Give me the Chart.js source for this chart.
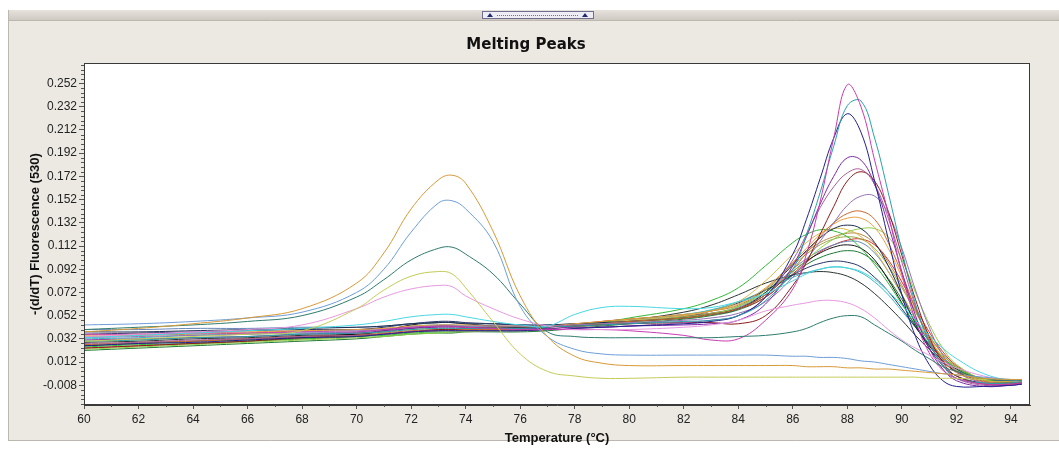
<!DOCTYPE html>
<html lang="en">
<head>
<meta charset="UTF-8">
<title>Melting Peaks</title>
<script src="https://cdn.jsdelivr.net/npm/chart.js"></script>
<style>
  html, body { margin: 0; padding: 0; background: #fff; }
  #wrap { width: 1059px; height: 449px; }
</style>
</head>
<body>
<div id="wrap"><canvas id="peaks" width="1059" height="449"></canvas></div>
<script>
// temperature grid (°C) shared by every curve
const temps = [60, 62, 64, 66, 68, 70, 71, 72, 73, 73.5, 74, 75, 76, 77, 78, 79, 80, 82, 83, 84, 85, 86,
  86.5, 87, 87.5, 88, 88.5, 89, 89.5, 90, 90.5, 91, 91.5, 92, 93, 94, 94.4];

const xTicks = [60, 62, 64, 66, 68, 70, 72, 74, 76, 78, 80, 82, 84, 86, 88, 90, 92, 94];
const yTicks = [-0.008, 0.012, 0.032, 0.052, 0.072, 0.092, 0.112, 0.132, 0.152, 0.172, 0.192, 0.212, 0.232, 0.252];

// samples with the low temperature peak (~73 °C)
const lowOrange = [0.038, 0.041, 0.045, 0.050, 0.058, 0.080, 0.106, 0.144, 0.169, 0.173, 0.166, 0.125, 0.069, 0.034,
  0.017, 0.011, 0.009, 0.009, 0.009, 0.009, 0.009, 0.009,
  0.008, 0.008, 0.008, 0.007, 0.007, 0.006, 0.006, 0.005, 0.004, 0.003, 0.002, 0.001,
  -0.002, -0.003, -0.003];
const lowBlue = [0.044, 0.045, 0.047, 0.050, 0.055, 0.072, 0.092, 0.124, 0.149, 0.151, 0.144, 0.116, 0.060, 0.034,
  0.023, 0.019, 0.018, 0.018, 0.018, 0.018, 0.018, 0.017,
  0.017, 0.016, 0.016, 0.015, 0.013, 0.012, 0.010, 0.008, 0.006, 0.004, 0.002, 0.001,
  -0.001, -0.003, -0.003];
const lowTeal = [0.040, 0.042, 0.044, 0.047, 0.052, 0.068, 0.083, 0.100, 0.110, 0.111, 0.105, 0.088, 0.062, 0.038,
  0.034, 0.033, 0.033, 0.033, 0.033, 0.034, 0.035, 0.038,
  0.041, 0.046, 0.050, 0.052, 0.051, 0.044, 0.037, 0.030, 0.022, 0.015, 0.008, 0.004,
  -0.002, -0.004, -0.004];
const lowYellow = [0.030, 0.032, 0.034, 0.036, 0.039, 0.058, 0.074, 0.086, 0.090, 0.088, 0.076, 0.047, 0.019, 0.004,
  0.000, -0.002, -0.002, -0.001, -0.001, -0.001, -0.001, -0.001,
  -0.001, -0.001, -0.001, -0.001, -0.001, -0.001, -0.001, -0.001, -0.001, -0.002, -0.002, -0.002,
  -0.003, -0.003, -0.003];
const lowPink = [0.034, 0.036, 0.038, 0.040, 0.044, 0.058, 0.068, 0.075, 0.078, 0.077, 0.069, 0.058, 0.049, 0.043,
  0.040, 0.040, 0.040, 0.042, 0.044, 0.048, 0.056, 0.061,
  0.063, 0.065, 0.065, 0.063, 0.058, 0.050, 0.040, 0.031, 0.024, 0.018, 0.012, 0.007,
  0.000, -0.004, -0.004];
const lowCyan = [0.033, 0.035, 0.037, 0.039, 0.041, 0.044, 0.047, 0.051, 0.053, 0.053, 0.051, 0.047, 0.044, 0.043,
  0.053, 0.059, 0.060, 0.058, 0.059, 0.064, 0.071, 0.082,
  0.088, 0.092, 0.094, 0.093, 0.090, 0.083, 0.073, 0.061, 0.048, 0.035, 0.024, 0.015,
  0.002, -0.004, -0.004];

// samples with the high temperature peak (~88 °C)
const peakMagenta = [0.036, 0.036, 0.037, 0.037, 0.038, 0.038, 0.040, 0.042, 0.043, 0.043, 0.042, 0.041, 0.040, 0.040,
  0.040, 0.040, 0.039, 0.035, 0.031, 0.032, 0.048, 0.075,
  0.105, 0.150, 0.205, 0.251, 0.232, 0.186, 0.140, 0.088, 0.048, 0.020, 0.005, -0.002,
  -0.007, -0.007, -0.006];
const peakTeal = [0.030, 0.031, 0.033, 0.034, 0.036, 0.037, 0.038, 0.040, 0.041, 0.041, 0.041, 0.041, 0.041, 0.042,
  0.043, 0.044, 0.045, 0.047, 0.048, 0.052, 0.065, 0.092,
  0.122, 0.158, 0.198, 0.233, 0.237, 0.205, 0.158, 0.108, 0.062, 0.029, 0.009, -0.002,
  -0.006, -0.006, -0.005];
const peakNavy = [0.026, 0.028, 0.029, 0.031, 0.033, 0.034, 0.036, 0.038, 0.039, 0.039, 0.039, 0.039, 0.039, 0.040,
  0.041, 0.042, 0.043, 0.045, 0.047, 0.052, 0.068, 0.105,
  0.135, 0.170, 0.205, 0.226, 0.210, 0.168, 0.118, 0.070, 0.034, 0.010, -0.004, -0.009,
  -0.009, -0.008, -0.007];
const peakPurple = [0.031, 0.032, 0.033, 0.034, 0.036, 0.037, 0.039, 0.041, 0.042, 0.042, 0.042, 0.041, 0.041, 0.041,
  0.042, 0.042, 0.043, 0.044, 0.045, 0.048, 0.062, 0.095,
  0.120, 0.148, 0.172, 0.188, 0.186, 0.165, 0.130, 0.090, 0.052, 0.024, 0.006, -0.004,
  -0.009, -0.008, -0.007];
const peakMauve = [0.028, 0.029, 0.031, 0.032, 0.034, 0.035, 0.036, 0.038, 0.039, 0.039, 0.039, 0.039, 0.039, 0.040,
  0.041, 0.042, 0.043, 0.046, 0.048, 0.052, 0.068, 0.100,
  0.122, 0.145, 0.163, 0.175, 0.178, 0.165, 0.136, 0.098, 0.060, 0.030, 0.010, -0.002,
  -0.008, -0.008, -0.007];
const peakDarkRed = [0.024, 0.026, 0.028, 0.030, 0.033, 0.035, 0.036, 0.038, 0.040, 0.040, 0.041, 0.041, 0.041, 0.042,
  0.043, 0.044, 0.045, 0.046, 0.046, 0.045, 0.052, 0.078,
  0.098, 0.122, 0.146, 0.168, 0.176, 0.168, 0.142, 0.104, 0.066, 0.034, 0.012, 0.000,
  -0.007, -0.007, -0.006];
const peakViolet = [0.033, 0.034, 0.035, 0.036, 0.038, 0.039, 0.040, 0.042, 0.043, 0.043, 0.043, 0.043, 0.043, 0.043,
  0.044, 0.045, 0.046, 0.048, 0.050, 0.054, 0.064, 0.085,
  0.100, 0.116, 0.132, 0.147, 0.155, 0.155, 0.140, 0.110, 0.074, 0.042, 0.018, 0.004,
  -0.006, -0.007, -0.006];
const peakRust = [0.027, 0.029, 0.030, 0.032, 0.034, 0.035, 0.037, 0.039, 0.040, 0.040, 0.040, 0.040, 0.040, 0.041,
  0.043, 0.045, 0.047, 0.050, 0.053, 0.058, 0.070, 0.092,
  0.106, 0.120, 0.132, 0.140, 0.142, 0.135, 0.115, 0.088, 0.058, 0.032, 0.014, 0.003,
  -0.005, -0.006, -0.005];
const peakOrange = [0.035, 0.036, 0.037, 0.038, 0.039, 0.040, 0.041, 0.043, 0.044, 0.044, 0.044, 0.043, 0.043, 0.043,
  0.045, 0.047, 0.049, 0.053, 0.056, 0.062, 0.076, 0.098,
  0.110, 0.122, 0.131, 0.136, 0.136, 0.128, 0.110, 0.085, 0.058, 0.034, 0.016, 0.005,
  -0.004, -0.005, -0.005];
const peakInk = [0.038, 0.038, 0.039, 0.040, 0.041, 0.042, 0.043, 0.045, 0.046, 0.046, 0.045, 0.045, 0.044, 0.044,
  0.045, 0.046, 0.047, 0.050, 0.053, 0.058, 0.072, 0.096,
  0.108, 0.119, 0.127, 0.130, 0.127, 0.115, 0.095, 0.070, 0.045, 0.024, 0.009, 0.000,
  -0.006, -0.006, -0.005];
const peakLime = [0.023, 0.025, 0.027, 0.029, 0.031, 0.033, 0.034, 0.036, 0.037, 0.038, 0.038, 0.039, 0.039, 0.040,
  0.042, 0.044, 0.046, 0.050, 0.053, 0.060, 0.072, 0.090,
  0.100, 0.110, 0.118, 0.124, 0.127, 0.127, 0.120, 0.100, 0.072, 0.045, 0.024, 0.010,
  -0.003, -0.005, -0.004];
const peakGreen = [0.025, 0.027, 0.028, 0.030, 0.032, 0.034, 0.035, 0.037, 0.038, 0.038, 0.039, 0.039, 0.039, 0.040,
  0.043, 0.046, 0.050, 0.058, 0.065, 0.076, 0.095, 0.115,
  0.122, 0.126, 0.125, 0.120, 0.110, 0.096, 0.080, 0.062, 0.044, 0.028, 0.016, 0.007,
  -0.003, -0.005, -0.004];
const peakGold = [0.030, 0.031, 0.033, 0.034, 0.036, 0.037, 0.038, 0.040, 0.041, 0.041, 0.041, 0.041, 0.041, 0.042,
  0.044, 0.046, 0.048, 0.052, 0.056, 0.064, 0.082, 0.105,
  0.115, 0.123, 0.127, 0.126, 0.120, 0.108, 0.090, 0.070, 0.050, 0.031, 0.017, 0.007,
  -0.003, -0.005, -0.004];
const peakOlive = [0.027, 0.028, 0.030, 0.031, 0.033, 0.035, 0.036, 0.038, 0.039, 0.039, 0.039, 0.040, 0.040, 0.041,
  0.043, 0.045, 0.047, 0.051, 0.054, 0.060, 0.074, 0.095,
  0.105, 0.113, 0.118, 0.120, 0.118, 0.110, 0.095, 0.076, 0.055, 0.035, 0.019, 0.008,
  -0.003, -0.005, -0.004];
const peakSteel = [0.040, 0.040, 0.041, 0.041, 0.042, 0.042, 0.043, 0.045, 0.046, 0.046, 0.045, 0.045, 0.044, 0.044,
  0.045, 0.046, 0.048, 0.051, 0.054, 0.059, 0.072, 0.092,
  0.101, 0.108, 0.113, 0.116, 0.115, 0.106, 0.090, 0.070, 0.049, 0.030, 0.015, 0.005,
  -0.004, -0.005, -0.004];
const peakBlack = [0.026, 0.028, 0.030, 0.032, 0.034, 0.036, 0.039, 0.044, 0.046, 0.046, 0.045, 0.043, 0.042, 0.042,
  0.043, 0.045, 0.047, 0.050, 0.053, 0.058, 0.070, 0.090,
  0.099, 0.106, 0.111, 0.113, 0.110, 0.100, 0.083, 0.063, 0.043, 0.026, 0.013, 0.004,
  -0.004, -0.005, -0.004];
const peakNight = [0.036, 0.037, 0.038, 0.039, 0.040, 0.040, 0.042, 0.045, 0.047, 0.047, 0.046, 0.045, 0.044, 0.043,
  0.044, 0.045, 0.047, 0.051, 0.056, 0.063, 0.074, 0.087,
  0.093, 0.097, 0.099, 0.098, 0.094, 0.085, 0.073, 0.058, 0.042, 0.027, 0.015, 0.006,
  -0.003, -0.004, -0.004];
const peakAqua = [0.032, 0.033, 0.035, 0.036, 0.037, 0.038, 0.040, 0.043, 0.044, 0.044, 0.043, 0.043, 0.042, 0.042,
  0.044, 0.046, 0.048, 0.053, 0.057, 0.064, 0.074, 0.085,
  0.089, 0.092, 0.094, 0.093, 0.089, 0.081, 0.070, 0.056, 0.042, 0.028, 0.016, 0.007,
  -0.003, -0.005, -0.004];
const peakSlate = [0.029, 0.030, 0.032, 0.033, 0.035, 0.036, 0.038, 0.041, 0.043, 0.043, 0.042, 0.042, 0.042, 0.042,
  0.044, 0.046, 0.048, 0.055, 0.061, 0.070, 0.080, 0.087,
  0.089, 0.090, 0.089, 0.086, 0.080, 0.071, 0.060, 0.048, 0.035, 0.023, 0.012, 0.004,
  -0.004, -0.005, -0.004];
const peakRed = [0.024, 0.026, 0.028, 0.030, 0.032, 0.034, 0.036, 0.038, 0.039, 0.040, 0.040, 0.040, 0.040, 0.041,
  0.044, 0.047, 0.049, 0.052, 0.054, 0.058, 0.068, 0.088,
  0.098, 0.107, 0.113, 0.117, 0.118, 0.113, 0.100, 0.081, 0.059, 0.038, 0.021, 0.009,
  -0.003, -0.005, -0.004];
const peakTan = [0.034, 0.035, 0.036, 0.037, 0.039, 0.040, 0.041, 0.042, 0.043, 0.043, 0.043, 0.043, 0.043, 0.043,
  0.045, 0.047, 0.049, 0.053, 0.056, 0.061, 0.075, 0.097,
  0.107, 0.115, 0.120, 0.123, 0.122, 0.114, 0.098, 0.078, 0.056, 0.035, 0.019, 0.008,
  -0.003, -0.005, -0.004];
const peakForest = [0.022, 0.024, 0.026, 0.028, 0.030, 0.032, 0.034, 0.036, 0.037, 0.037, 0.038, 0.038, 0.038, 0.039,
  0.041, 0.043, 0.045, 0.049, 0.052, 0.057, 0.068, 0.087,
  0.096, 0.102, 0.106, 0.108, 0.106, 0.098, 0.084, 0.066, 0.047, 0.030, 0.016, 0.006,
  -0.003, -0.005, -0.004];

const curves = [lowOrange, lowBlue, lowTeal, lowYellow, lowPink, lowCyan,
  peakMagenta, peakTeal, peakNavy, peakPurple, peakMauve, peakDarkRed, peakViolet, peakRust,
  peakOrange, peakInk, peakLime, peakGreen, peakGold, peakOlive, peakSteel, peakBlack,
  peakNight, peakAqua, peakSlate, peakRed, peakTan, peakForest];

const lineColors = ['#D89A38', '#6E9ED8', '#2E7C6E', '#C4CC58', '#E898E0', '#48D8E4',
  '#C83CB0', '#2AA0AC', '#202090', '#8028A8', '#A86098', '#8C1C1C', '#9870B8', '#C86A30',
  '#E8A040', '#1C2C50', '#90D048', '#30B838', '#D8B848', '#98A840', '#6488B8', '#141414',
  '#243468', '#38B8C0', '#2C3434', '#D83030', '#B88848', '#1E7A34'];

const datasets = curves.map((vals, i) => ({
  label: 'Sample ' + (i + 1),
  data: vals.map((v, j) => ({ x: temps[j], y: v })),
  borderColor: lineColors[i],
  borderWidth: 1,
  pointRadius: 0,
  fill: false,
  tension: 0.4
}));

// window frame, header strip and white plot area
const framePlugin = {
  id: 'frame',
  beforeDraw(chart) {
    const { ctx, chartArea: a, width, height } = chart;
    ctx.save();
    ctx.fillStyle = '#ffffff';
    ctx.fillRect(0, 0, width, height);
    ctx.fillStyle = '#ECE9E3';
    ctx.fillRect(8, 10, width - 8, 431);
    const g = ctx.createLinearGradient(0, 10, 0, 20);
    g.addColorStop(0, '#E6E3DC');
    g.addColorStop(1, '#CECAC2');
    ctx.fillStyle = g;
    ctx.fillRect(8, 10, width - 8, 10);
    ctx.strokeStyle = '#BCB8B0';
    ctx.beginPath();
    ctx.moveTo(8, 20.5); ctx.lineTo(width, 20.5);
    ctx.moveTo(8.5, 10); ctx.lineTo(8.5, 441);
    ctx.moveTo(8, 440.5); ctx.lineTo(width, 440.5);
    ctx.stroke();
    // little splitter button
    ctx.fillStyle = '#EEEDF5';
    ctx.fillRect(482, 11, 112, 8);
    ctx.strokeStyle = '#6E6E8E';
    ctx.strokeRect(482.5, 11.5, 111, 7);
    ctx.fillStyle = '#1E2A6E';
    [490, 585].forEach(cx => {
      ctx.beginPath();
      ctx.moveTo(cx - 3, 17); ctx.lineTo(cx + 3, 17); ctx.lineTo(cx, 13);
      ctx.closePath(); ctx.fill();
    });
    ctx.fillStyle = '#7070A0';
    for (let px = 497; px < 578; px += 2) ctx.fillRect(px, 15, 1, 1);
    ctx.fillStyle = '#ffffff';
    ctx.fillRect(a.left, a.top, a.right - a.left, a.bottom - a.top);
    ctx.restore();
  },
  afterDraw(chart) {
    const { ctx, chartArea: a, scales: { x, y } } = chart;
    ctx.save();
    ctx.strokeStyle = '#555';
    ctx.lineWidth = 1;
    ctx.beginPath();
    // minor ticks
    for (let t = 61; t < 94.7; t += 2) {
      const px = Math.round(x.getPixelForValue(t)) + 0.5;
      ctx.moveTo(px, a.bottom); ctx.lineTo(px, a.bottom + 2);
    }
    for (let j = -4; j <= 69; j++) {
      if (j % 5 === 0) continue;
      const py = Math.round(y.getPixelForValue(0.252 - 0.004 * j)) + 0.5;
      ctx.moveTo(a.left - 3, py); ctx.lineTo(a.left, py);
    }
    ctx.stroke();
    ctx.strokeStyle = '#3a3a3a';
    ctx.strokeRect(a.left + 0.5, a.top + 0.5, a.right - a.left - 1, a.bottom - a.top - 1);
    ctx.restore();
  }
};

const tickFont = { family: '"Liberation Sans", Arial, sans-serif', size: 12 };
const axisTitleFont = { family: '"Liberation Sans", Arial, sans-serif', size: 13, weight: 'bold' };

new Chart(document.getElementById('peaks'), {
  type: 'line',
  data: { datasets },
  options: {
    responsive: false,
    animation: false,
    devicePixelRatio: 1,
    layout: { padding: { left: 11, right: 18, top: 0, bottom: 1 } },
    plugins: {
      legend: { display: false },
      tooltip: { enabled: false },
      title: {
        display: true,
        text: 'Melting Peaks',
        color: '#111',
        font: { family: '"DejaVu Sans", Verdana, sans-serif', size: 15, weight: 'bold' },
        padding: { top: 36, bottom: 9 }
      }
    },
    scales: {
      x: {
        type: 'linear',
        min: 60,
        max: 94.7,
        afterBuildTicks: axis => { axis.ticks = xTicks.map(v => ({ value: v })); },
        ticks: { font: tickFont, color: '#222', padding: 3, maxRotation: 0, autoSkip: false },
        grid: { drawOnChartArea: false, drawTicks: true, tickLength: 4, tickColor: '#555' },
        border: { display: true, color: '#3a3a3a' },
        title: { display: true, text: 'Temperature (°C)', color: '#111', font: axisTitleFont, padding: { top: 1, bottom: 2 } }
      },
      y: {
        min: -0.025,
        max: 0.2697,
        afterBuildTicks: axis => { axis.ticks = yTicks.map(v => ({ value: v })); },
        afterFit: scale => { scale.width = 73; },
        ticks: { font: tickFont, color: '#222', padding: 2, callback: v => v.toFixed(3) },
        grid: { drawOnChartArea: false, drawTicks: true, tickLength: 5, tickColor: '#555' },
        border: { display: true, color: '#3a3a3a' },
        title: { display: true, text: '-(d/dT) Fluorescence (530)', color: '#111', font: axisTitleFont, padding: { top: 17, bottom: 0 } }
      },
      y2: {
        position: 'right',
        display: true,
        ticks: { display: false },
        grid: { display: false, drawTicks: false },
        border: { display: false },
        afterFit: scale => { scale.width = 11; }
      }
    }
  },
  plugins: [framePlugin]
});
</script>
</body>
</html>
